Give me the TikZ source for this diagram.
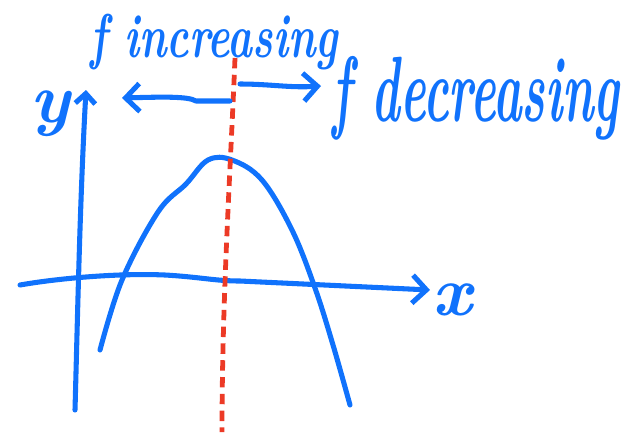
\documentclass[tikz,border=0pt]{standalone}
\usepackage{tikz}
\usetikzlibrary{arrows.meta}
\definecolor{penblue}{RGB}{16,114,252}
\definecolor{penred}{RGB}{236,58,38}
\tikzset{
  ink/.style={draw=penblue,line width=3.6pt,line cap=round,line join=round},
  hand/.style={-{Straight Barb[length=3.5mm,width=7mm]}},
  smallhand/.style={-{Straight Barb[length=2.5mm,width=5mm]}},
  scrawl/.style={text=penblue,font=\bfseries\itshape\fontsize{44}{44}\selectfont,inner sep=0pt}
}
\begin{document}
\begin{tikzpicture}[x=0.025cm,y=-0.025cm]
  \useasboundingbox (0,0) rectangle (624,436);
  % axes
  \coordinate (xstart) at (20,285);
  \coordinate (xend) at (430,290);
  \coordinate (ystart) at (75,410);
  \coordinate (yend) at (86,90);
  \draw[ink,hand] (xstart) .. controls (60,278) and (120,273) .. (165,275)
    .. controls (200,277) and (215,281) .. (240,281) -- (xend);
  \draw[ink,smallhand] (ystart) .. controls (78,300) and (80,200) .. (yend);
  \node[scrawl,font=\bfseries\itshape\fontsize{50}{50}\selectfont] (xlab) at (452,300) {x};
  \node[scrawl,font=\bfseries\itshape\fontsize{50}{50}\selectfont] (ylab) at (50,114) {y};
  % parabola
  \draw[ink] plot[smooth,tension=0.6] coordinates {(100,350) (122,280) (158,212)
    (186,184) (208,160) (232,160) (262,180) (292,230) (315,288) (333,345) (350,405)};
  % split line
  \coordinate (cuttop) at (235,58);
  \coordinate (cutbot) at (222,432);
  \draw[penred,line width=3.4pt,dash pattern=on 0.26cm off 0.16cm]
    (cuttop) .. controls (230,180) and (222,300) .. (cutbot);
  % labels with arrows
  \coordinate (lfrom) at (230,101);
  \coordinate (lto) at (122,98);
  \coordinate (rfrom) at (240,84);
  \coordinate (rto) at (321,86);
  \draw[ink,hand] (lfrom) -- (196,101) .. controls (188,96) and (160,97) .. (lto);
  \draw[ink,hand] (rfrom) .. controls (270,84) and (290,88) .. (rto);
  \node[scrawl,xscale=0.68] (inc) at (214,42) {f increasing};
  \node[scrawl,font=\bfseries\itshape\fontsize{66}{66}\selectfont,xscale=0.52] (dec) at (476,98) {f decreasing};
\end{tikzpicture}
\end{document}
